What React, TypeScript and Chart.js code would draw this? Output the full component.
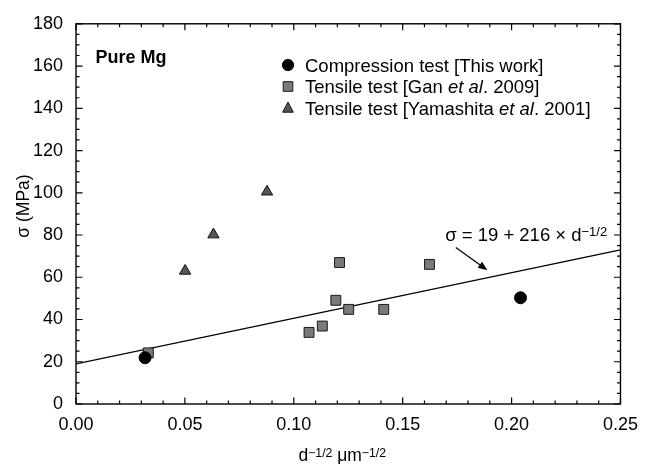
import React, { useEffect, useRef } from 'react';
import { Chart, registerables } from 'chart.js';

Chart.register(...registerables);

// ---- data ----
const compX = [0.0317, 0.2041];
const compY = [21.9, 50.3];
const ganX = [0.0332, 0.107, 0.1131, 0.1193, 0.121, 0.1252, 0.1413, 0.1623];
const ganY = [24.2, 33.9, 36.9, 49.1, 67.0, 44.8, 44.8, 66.1];
const yamX = [0.0501, 0.0631, 0.0877];
const yamY = [63.0, 80.2, 100.5];
const fitX = [0, 0.25];
const fitY = [19, 73];
const xTicks = [0, 0.05, 0.1, 0.15, 0.2, 0.25];
const yTicks = [0, 20, 40, 60, 80, 100, 120, 140, 160, 180];
const xMinorStep = 0.01;
const yMinorStep = 5;
const legendLabels = [
  [{ t: 'Compression test [This work]' }],
  [{ t: 'Tensile test [Gan ' }, { t: 'et al', it: true }, { t: '. 2009]' }],
  [{ t: 'Tensile test [Yamashita ' }, { t: 'et al', it: true }, { t: '. 2001]' }],
];
const sampleLabel = 'Pure Mg';
const sampleLabelAt = [0.009, 164.5];
const eqAt = [0.1695, 80.6];
const arrowFrom = [0.1744, 74.1];
const arrowTo = [0.1889, 63.3];

const FONT = '"Liberation Sans", Arial, Helvetica, sans-serif';

type Seg = { t: string; it?: boolean; bold?: boolean; sup?: boolean };

function drawRich(ctx: CanvasRenderingContext2D, x: number, y: number, segs: Seg[], size: number, align: 'left' | 'center') {
  const supSize = size * 0.7;
  const fontFor = (s: Seg) => `${s.it ? 'italic ' : ''}${s.bold ? 'bold ' : ''}${s.sup ? supSize : size}px ${FONT}`;
  let total = 0;
  for (const s of segs) {
    ctx.font = fontFor(s);
    total += ctx.measureText(s.t).width;
  }
  let cx = align === 'center' ? x - total / 2 : x;
  ctx.textBaseline = 'alphabetic';
  ctx.textAlign = 'left';
  for (const s of segs) {
    ctx.font = fontFor(s);
    ctx.fillText(s.t, cx, s.sup ? y - size * 0.24 : y);
    cx += ctx.measureText(s.t).width;
  }
}

function marker(ctx: CanvasRenderingContext2D, style: string, x: number, y: number, r: number, fill: string, stroke: string) {
  ctx.beginPath();
  if (style === 'circle') ctx.arc(x, y, r, 0, Math.PI * 2);
  else if (style === 'rect') ctx.rect(x - r, y - r, 2 * r, 2 * r);
  else {
    ctx.moveTo(x, y - r * 1.05);
    ctx.lineTo(x + r * 0.95, y + r * 0.75);
    ctx.lineTo(x - r * 0.95, y + r * 0.75);
    ctx.closePath();
  }
  ctx.fillStyle = fill;
  ctx.fill();
  ctx.lineWidth = 1;
  ctx.strokeStyle = stroke;
  ctx.stroke();
}

const framePlugin = {
  id: 'frame',
  beforeDatasetsDraw(chart: any) {
    const { ctx, chartArea: a, scales } = chart;
    const xs = scales.x, ys = scales.y;
    ctx.save();
    ctx.strokeStyle = '#000';
    ctx.lineWidth = 1.2;
    const tick = (px: number, len: number, horiz: boolean) => {
      ctx.beginPath();
      if (horiz) {
        ctx.moveTo(px, a.bottom); ctx.lineTo(px, a.bottom - len);
        ctx.moveTo(px, a.top); ctx.lineTo(px, a.top + len);
      } else {
        ctx.moveTo(a.left, px); ctx.lineTo(a.left + len, px);
        ctx.moveTo(a.right, px); ctx.lineTo(a.right - len, px);
      }
      ctx.stroke();
    };
    for (let i = 0; i < xTicks.length - 1; i++) {
      for (let v = xTicks[i] + xMinorStep; v < xTicks[i + 1] - 1e-9; v += xMinorStep) tick(xs.getPixelForValue(v), 3.5, true);
    }
    for (const v of xTicks) tick(xs.getPixelForValue(v), 6.5, true);
    for (let i = 0; i < yTicks.length - 1; i++) {
      for (let v = yTicks[i] + yMinorStep; v < yTicks[i + 1] - 1e-9; v += yMinorStep) tick(ys.getPixelForValue(v), 3.5, false);
    }
    for (const v of yTicks) tick(ys.getPixelForValue(v), 6.5, false);
    ctx.lineWidth = 1.4;
    ctx.strokeRect(a.left, a.top, a.right - a.left, a.bottom - a.top);
    ctx.restore();
  },
  afterDraw(chart: any) {
    const { ctx, chartArea: a, scales } = chart;
    const xs = scales.x, ys = scales.y;
    ctx.save();
    ctx.fillStyle = '#000';
    // axis titles
    drawRich(ctx, (a.left + a.right) / 2 - 6, 461, [
      { t: 'd' }, { t: '\u22121/2', sup: true }, { t: ' \u03bcm' }, { t: '\u22121/2', sup: true },
    ], 17.5, 'center');
    ctx.save();
    ctx.translate(29, 206);
    ctx.rotate(-Math.PI / 2);
    drawRich(ctx, 0, 0, [{ t: '\u03c3 (MPa)' }], 17.5, 'center');
    ctx.restore();
    // sample label
    drawRich(ctx, xs.getPixelForValue(sampleLabelAt[0]), ys.getPixelForValue(sampleLabelAt[1]) + 6.5, [{ t: sampleLabel, bold: true }], 18, 'left');
    // legend
    const ds = chart.data.datasets;
    const lx = a.left + 212, ly0 = 65, dy = 21.5;
    for (let i = 0; i < 3; i++) {
      const d = ds[i];
      const y = ly0 + i * dy;
      const r = d.pointStyle === 'circle' ? 5.6 : d.pointStyle === 'rect' ? 4.8 : 5.6;
      marker(ctx, d.pointStyle, lx, y, r, d.backgroundColor, d.borderColor);
      ctx.fillStyle = '#000';
      drawRich(ctx, lx + 17, y + 6.8, legendLabels[i] as Seg[], 18.5, 'left');
    }
    // equation
    drawRich(ctx, xs.getPixelForValue(eqAt[0]), ys.getPixelForValue(eqAt[1]) + 7, [
      { t: '\u03c3 = 19 + 216 \u00d7 d' }, { t: '\u22121/2', sup: true },
    ], 18.5, 'left');
    // arrow
    const x1 = xs.getPixelForValue(arrowFrom[0]), y1 = ys.getPixelForValue(arrowFrom[1]);
    const x2 = xs.getPixelForValue(arrowTo[0]), y2 = ys.getPixelForValue(arrowTo[1]);
    const ang = Math.atan2(y2 - y1, x2 - x1);
    ctx.strokeStyle = '#000';
    ctx.lineWidth = 1.3;
    ctx.beginPath();
    ctx.moveTo(x1, y1);
    ctx.lineTo(x2 - 6 * Math.cos(ang), y2 - 6 * Math.sin(ang));
    ctx.stroke();
    ctx.beginPath();
    ctx.moveTo(x2, y2);
    ctx.lineTo(x2 - 10 * Math.cos(ang - 0.38), y2 - 10 * Math.sin(ang - 0.38));
    ctx.lineTo(x2 - 10 * Math.cos(ang + 0.38), y2 - 10 * Math.sin(ang + 0.38));
    ctx.closePath();
    ctx.fillStyle = '#000';
    ctx.fill();
    ctx.restore();
  },
};

const zip = (xs: number[], ys: number[]) => xs.map((x, i) => ({ x, y: ys[i] }));

export default function App() {
  const ref = useRef<HTMLCanvasElement>(null);
  useEffect(() => {
    const chart = new Chart(ref.current!, {
      type: 'scatter',
      data: {
        datasets: [
          { label: 'comp', data: zip(compX, compY), pointStyle: 'circle', pointRadius: 6, backgroundColor: '#000', borderColor: '#000', borderWidth: 1, order: 1 } as any,
          { label: 'gan', data: zip(ganX, ganY), pointStyle: 'rect', pointRadius: 7, backgroundColor: '#7a7a7a', borderColor: '#1a1a1a', borderWidth: 1, order: 2 } as any,
          { label: 'yam', data: zip(yamX, yamY), pointStyle: 'triangle', pointRadius: 6.5, backgroundColor: '#555', borderColor: '#111', borderWidth: 1, order: 3 } as any,
          { label: 'fit', data: zip(fitX, fitY), showLine: true, pointRadius: 0, borderColor: '#000', borderWidth: 1.3, fill: false, order: 4 } as any,
        ],
      },
      options: {
        responsive: false,
        animation: false,
        layout: { padding: { left: 0, top: 20, right: 20, bottom: 0 } },
        plugins: { legend: { display: false }, tooltip: { enabled: false } },
        scales: {
          x: {
            type: 'linear', min: 0, max: 0.25,
            afterBuildTicks: (s: any) => { s.ticks = xTicks.map((v) => ({ value: v })); },
            afterFit: (s: any) => { s.height = 60; },
            ticks: { callback: (v: any) => Number(v).toFixed(2), color: '#000', font: { family: FONT, size: 18 }, padding: 10, maxRotation: 0, autoSkip: false },
            grid: { display: false, drawTicks: false },
            border: { display: false },
          },
          y: {
            type: 'linear', min: 0, max: 180,
            afterBuildTicks: (s: any) => { s.ticks = yTicks.map((v) => ({ value: v })); },
            afterFit: (s: any) => { s.width = 76; },
            ticks: { color: '#000', font: { family: FONT, size: 18 }, padding: 13, autoSkip: false },
            grid: { display: false, drawTicks: false },
            border: { display: false },
          },
        },
      },
      plugins: [framePlugin],
    });
    return () => chart.destroy();
  }, []);
  return (
    <div style={{ position: 'fixed', left: 0, top: 0, width: 648, height: 464, background: '#fff' }}>
      <canvas ref={ref} width={648} height={464} style={{ display: 'block', width: 648, height: 464 }} />
    </div>
  );
}
